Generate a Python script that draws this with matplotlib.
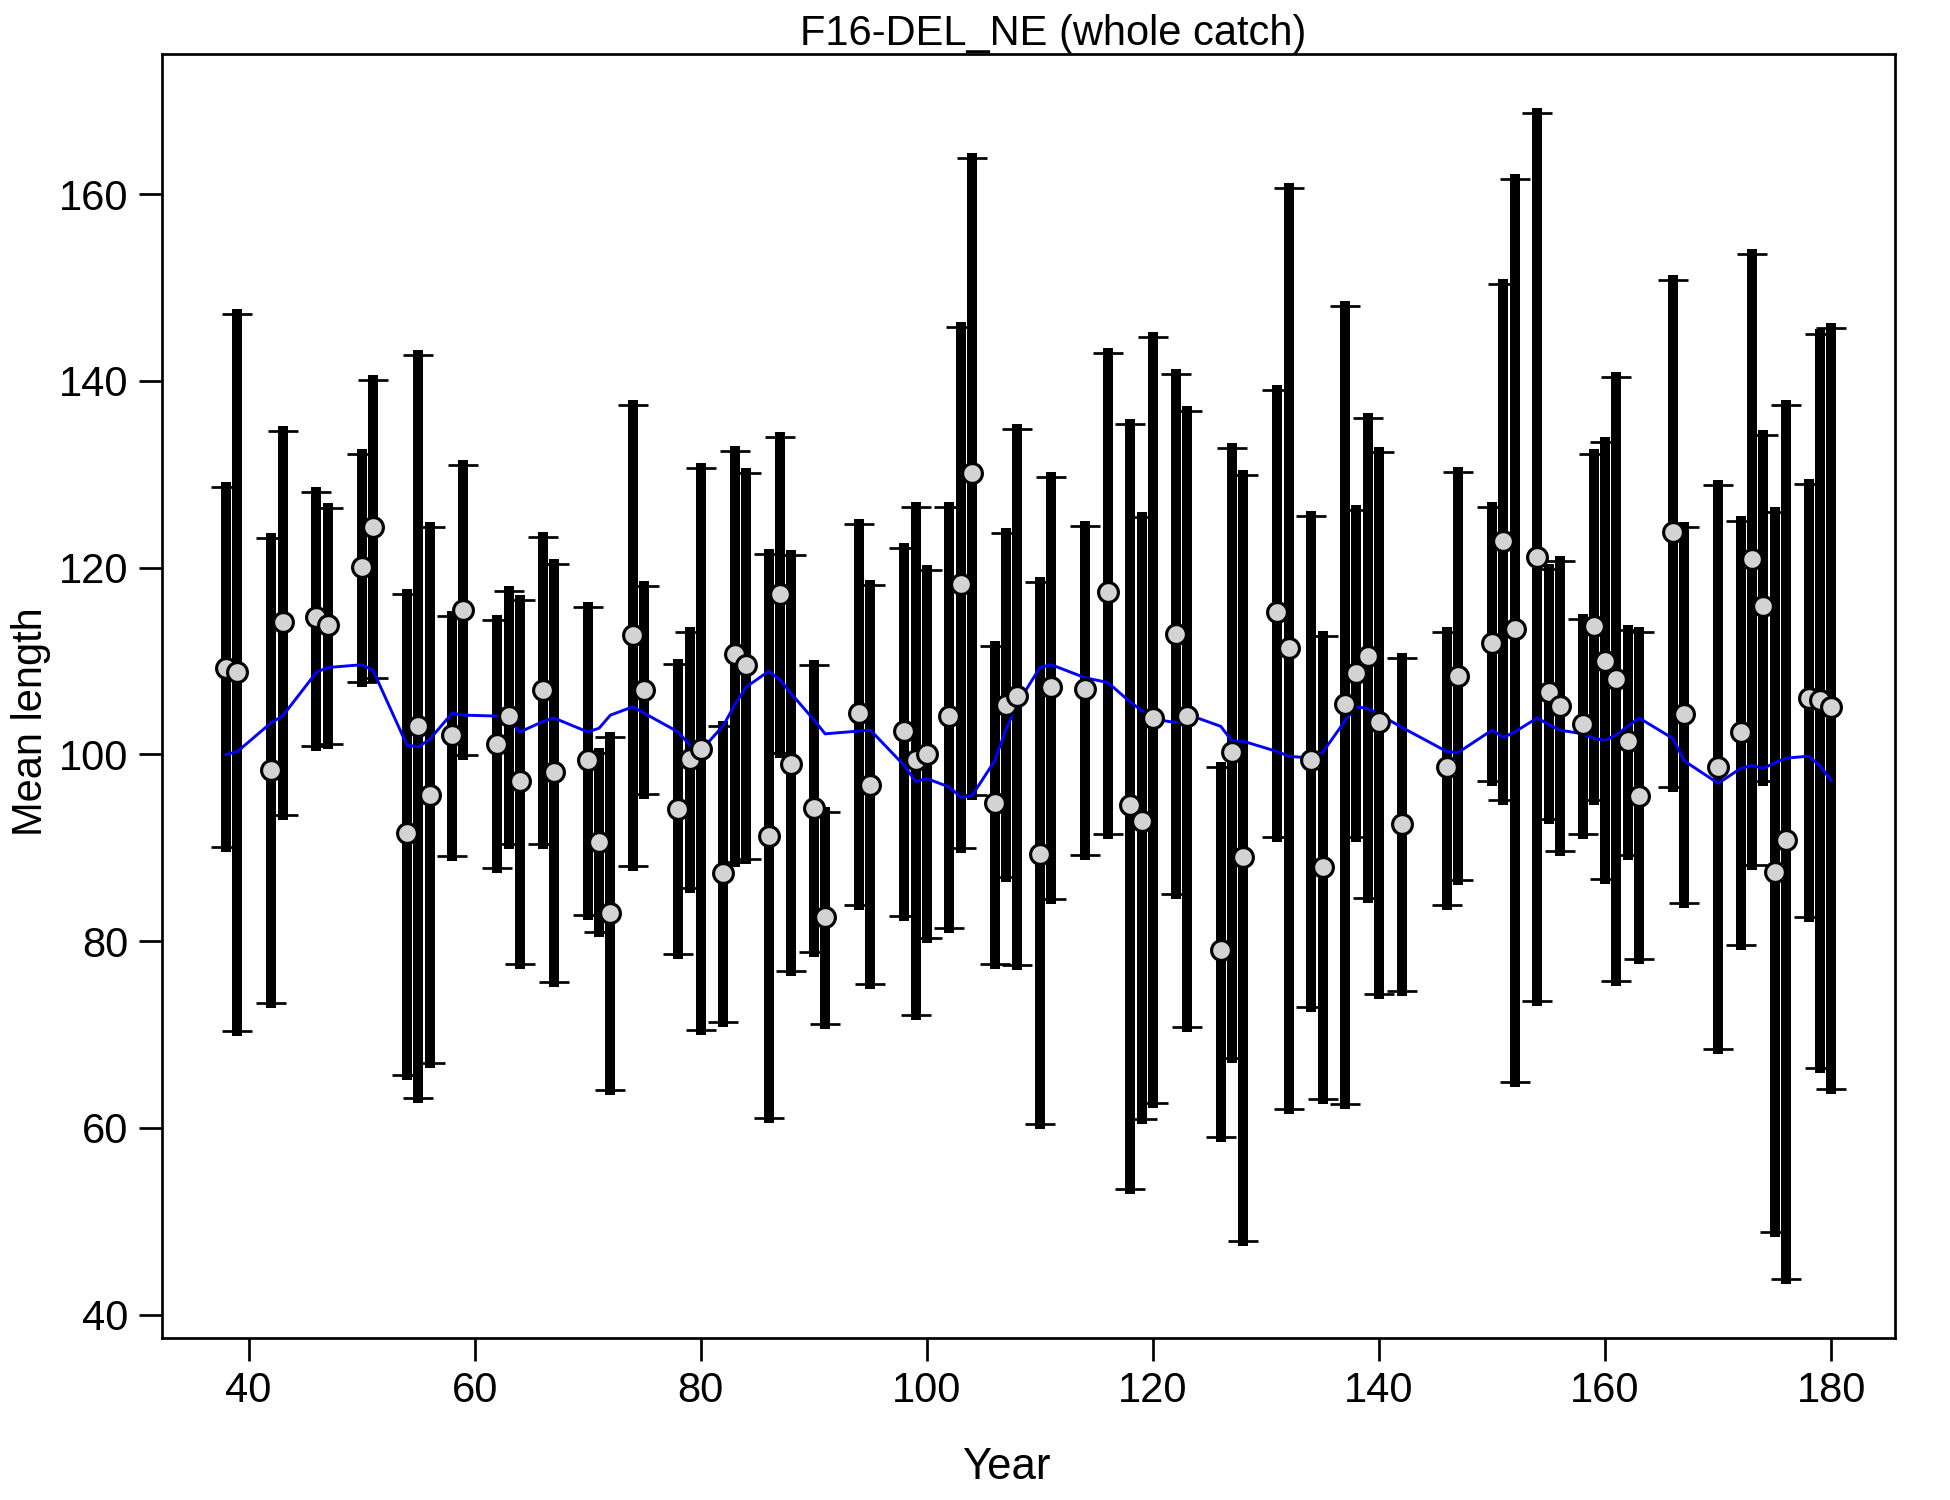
import numpy as np
import matplotlib.pyplot as plt

plt.rcParams['font.family'] = ['Liberation Sans', 'DejaVu Sans']

# mean length by year, with interval limits and the expected (model) line
years = [38, 39, 42, 43, 46, 47, 50, 51, 54, 55, 56, 58, 59, 62, 63, 64, 66, 67,
         70, 71, 72, 74, 75, 78, 79, 80, 82, 83, 84, 86, 87, 88, 90, 91, 94, 95,
         98, 99, 100, 102, 103, 104, 106, 107, 108, 110, 111, 114, 116, 118, 119,
         120, 122, 123, 126, 127, 128, 131, 132, 134, 135, 137, 138, 139, 140,
         142, 146, 147, 150, 151, 152, 154, 155, 156, 158, 159, 160, 161, 162,
         163, 166, 167, 170, 172, 173, 174, 175, 176, 178, 179, 180]

obs = [109.3, 108.8, 98.3, 114.2, 114.7, 113.8, 120.1, 124.3, 91.6, 103.0, 95.7,
       102.1, 115.5, 101.1, 104.1, 97.1, 106.9, 98.1, 99.4, 90.6, 83.0, 112.8,
       106.9, 94.2, 99.5, 100.6, 87.3, 110.7, 109.6, 91.3, 117.2, 99.0, 94.3,
       82.6, 104.4, 96.7, 102.5, 99.4, 100.0, 104.1, 118.2, 130.1, 94.8, 105.3,
       106.2, 89.3, 107.2, 107.0, 117.4, 94.6, 92.9, 103.9, 112.9, 104.1, 79.0,
       100.3, 89.0, 115.2, 111.4, 99.4, 87.9, 105.4, 108.7, 110.5, 103.5, 92.5,
       98.6, 108.4, 111.9, 122.8, 113.4, 121.1, 106.7, 105.2, 103.2, 113.7,
       110.0, 108.1, 101.4, 95.5, 123.8, 104.3, 98.7, 102.4, 120.9, 115.9, 87.4,
       90.8, 106.0, 105.8, 105.1]

lower = [90.1, 70.4, 73.4, 93.5, 100.9, 101.1, 107.7, 108.2, 65.7, 63.2, 66.9,
         89.1, 99.9, 87.8, 90.4, 77.5, 90.4, 75.6, 82.8, 81.0, 64.1, 88.0, 95.8,
         78.6, 85.7, 70.5, 71.3, 88.5, 88.8, 61.1, 100.1, 76.8, 78.8, 71.1, 83.9,
         75.4, 82.7, 72.1, 80.3, 81.4, 90.0, 95.7, 77.5, 86.9, 77.4, 60.4, 84.5,
         89.2, 91.5, 53.5, 61.0, 62.7, 85.0, 70.8, 59.0, 67.5, 47.9, 91.1, 62.0,
         72.9, 63.1, 62.6, 91.1, 84.6, 74.3, 74.7, 83.9, 86.5, 97.1, 95.1, 64.9,
         73.6, 93.1, 89.6, 91.5, 95.1, 86.7, 75.7, 89.2, 78.1, 96.5, 84.1, 68.4,
         79.6, 88.1, 97.2, 48.8, 43.8, 82.6, 66.4, 64.2]

upper = [128.6, 147.2, 123.2, 134.6, 128.1, 126.4, 132.2, 140.1, 117.2, 142.8,
         124.4, 114.8, 131.0, 114.4, 117.5, 116.5, 123.3, 120.4, 115.8, 100.1,
         101.9, 137.4, 118.0, 109.7, 113.1, 130.7, 103.0, 132.5, 130.1, 121.5,
         134.0, 121.3, 109.6, 93.8, 124.7, 118.1, 122.1, 126.5, 119.7, 126.5,
         145.8, 163.9, 111.6, 123.7, 134.8, 118.5, 129.7, 124.5, 143.0, 135.4,
         125.4, 144.7, 140.7, 136.8, 98.7, 132.8, 129.9, 139.0, 160.7, 125.5,
         112.7, 148.0, 126.2, 136.0, 132.4, 110.3, 113.1, 130.2, 126.5, 150.4,
         161.6, 168.7, 119.9, 120.7, 114.5, 132.2, 133.5, 140.4, 113.3, 113.1,
         150.8, 124.4, 128.8, 125.0, 153.6, 134.2, 126.0, 137.4, 128.9, 145.0,
         145.7]

expected = [100.0, 100.3, 103.4, 104.1, 108.8, 109.3, 109.6, 109.0, 101.0, 100.8,
            101.6, 104.4, 104.2, 104.1, 103.7, 102.4, 103.5, 103.9, 102.4, 102.8,
            104.2, 105.1, 104.4, 102.4, 101.0, 100.4, 103.1, 105.3, 107.2, 108.9,
            108.0, 106.5, 103.7, 102.2, 102.5, 102.6, 98.8, 97.1, 97.4, 96.5,
            95.4, 95.6, 99.3, 102.7, 105.4, 109.3, 109.6, 108.2, 107.7, 105.6,
            104.7, 103.8, 103.4, 104.3, 103.0, 101.4, 101.4, 100.3, 99.8, 99.6,
            100.2, 103.6, 105.1, 104.9, 104.3, 102.9, 100.3, 100.2, 102.6, 101.8,
            102.4, 103.9, 103.2, 102.6, 102.2, 101.7, 101.5, 102.1, 103.0, 103.9,
            101.7, 99.3, 96.9, 98.5, 98.8, 98.5, 99.1, 99.6, 99.8, 98.8, 97.2]

x = np.array(years)
obs = np.array(obs)
err = [obs - np.array(lower), np.array(upper) - obs]

fig = plt.figure(figsize=(13, 10), dpi=150)
ax = fig.add_axes([0.083, 0.108, 0.889, 0.856])

eb = ax.errorbar(x, obs, yerr=err, fmt='none', ecolor='black', elinewidth=4.8,
                 capsize=7, capthick=1.3, zorder=2)
eb[2][0].set_capstyle('projecting')
ax.plot(x, expected, color='blue', lw=1.4, zorder=3)
ax.plot(x, obs, 'o', mfc='#d3d3d3', mec='black', ms=9.5, mew=1.5, zorder=4)

xr = x.max() - x.min()
ax.set_xlim(x.min() - 0.04 * xr, x.max() + 0.04 * xr)
ax.set_ylim(37.5, 175.0)
ax.set_xticks(np.arange(40, 181, 20))
ax.set_yticks(np.arange(40, 161, 20))

for s in ax.spines.values():
    s.set_linewidth(1.3)
ax.tick_params(direction='out', length=11, width=1.3, labelsize=20, pad=5)
ax.set_xlabel('Year', fontsize=21, labelpad=19)
ax.xaxis.set_label_coords(0.487, -0.085)
ax.set_ylabel('Mean length', fontsize=20)
ax.yaxis.set_label_coords(-0.064, 0.48)
ax.set_title('F16-DEL_NE (whole catch)', fontsize=20, pad=2, x=0.514)

fig.savefig('out.png', dpi=150)
